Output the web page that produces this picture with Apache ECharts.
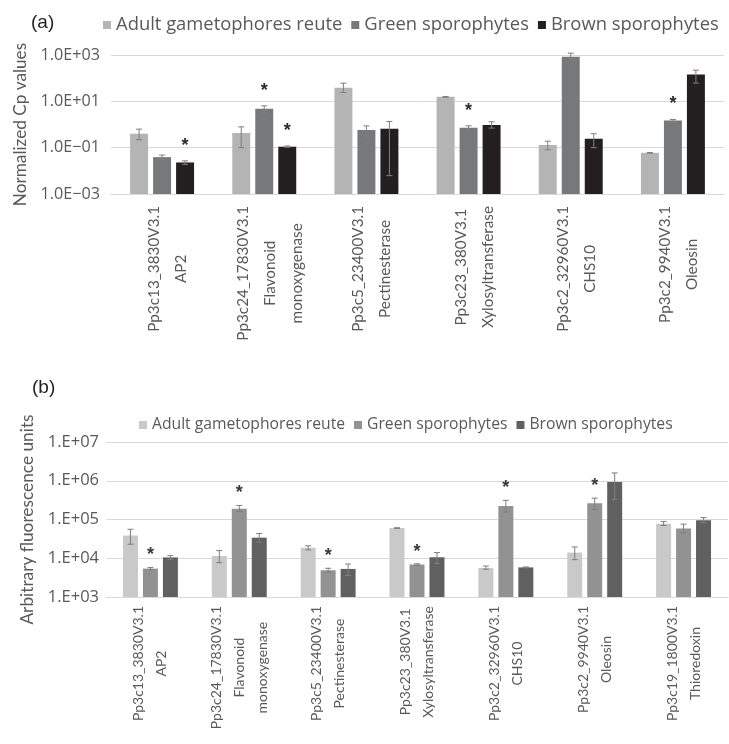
<!DOCTYPE html>
<html>
<head>
<meta charset="utf-8">
<script src="https://cdn.jsdelivr.net/npm/echarts@6/dist/echarts.min.js"></script>
<style>
  html, body { margin: 0; padding: 0; background: #ffffff; }
  #chart { width: 729px; height: 744px; }
</style>
</head>
<body>
<div id="chart"></div>
<script>
// ---- shared ----
const seriesNames = ['Adult gametophores reute', 'Green sporophytes', 'Brown sporophytes'];

// ---- panel (a): normalized Cp values ----
const genesA = [
  'Pp3c13_3830V3.1\nAP2',
  'Pp3c24_17830V3.1\nFlavonoid\nmonoxygenase',
  'Pp3c5_23400V3.1\nPectinesterase',
  'Pp3c23_380V3.1\nXylosyltransferase',
  'Pp3c2_32960V3.1\nCHS10',
  'Pp3c2_9940V3.1\nOleosin'
];
const adultA   = [0.40, 0.43, 39, 15.6, 0.13, 0.060];
const adultLoA = [0.22, 0.10, 24, 15.0, 0.081, 0.058];
const adultHiA = [0.63, 0.79, 61, 16.2, 0.19, 0.062];
const greenA   = [0.039, 4.8, 0.58, 0.72, 850, 1.5];
const greenLoA = [0.030, 3.2, 0.29, 0.56, 660, 1.36];
const greenHiA = [0.048, 6.4, 0.87, 0.88, 1200, 1.64];
const brownA   = [0.023, 0.11, 0.65, 0.94, 0.24, 143];
const brownLoA = [0.019, 0.104, 0.0062, 0.70, 0.10, 61];
const brownHiA = [0.027, 0.118, 1.35, 1.31, 0.40, 220];
const sigGreenA = [0, 1, 0, 1, 0, 1];
const sigBrownA = [1, 1, 0, 0, 0, 0];
const noSigA    = [0, 0, 0, 0, 0, 0];
const tickExpA    = [-3, -1, 1, 3];
const tickLabelsA = ['1.0E\u221203', '1.0E\u221201', '1.0E+01', '1.0E+03'];

// ---- panel (b): arbitrary fluorescence units ----
const genesB = [
  'Pp3c13_3830V3.1\nAP2',
  'Pp3c24_17830V3.1\nFlavonoid\nmonoxygenase',
  'Pp3c5_23400V3.1\nPectinesterase',
  'Pp3c23_380V3.1\nXylosyltransferase',
  'Pp3c2_32960V3.1\nCHS10',
  'Pp3c2_9940V3.1\nOleosin',
  'Pp3c19_1800V3.1\nThioredoxin'
];
const adultB   = [38500, 11400, 18700, 60000, 5600, 14000, 78000];
const adultLoB = [23000, 7700, 16400, 58500, 5200, 9200, 70000];
const adultHiB = [56000, 15800, 21000, 61500, 6300, 19500, 89000];
const greenB   = [5400, 190000, 4900, 6900, 224000, 262000, 59000];
const greenLoB = [5000, 160000, 4400, 6600, 156000, 180000, 46000];
const greenHiB = [5800, 230000, 5500, 7200, 313000, 355000, 76000];
const brownB   = [10500, 34000, 5300, 10600, 5800, 930000, 95500];
const brownLoB = [9400, 26000, 3600, 7300, 5650, 325000, 82000];
const brownHiB = [11700, 43500, 7100, 14000, 5950, 1590000, 112000];
const sigGreenB = [1, 1, 1, 1, 1, 1, 0];
const noSigB    = [0, 0, 0, 0, 0, 0, 0];
const tickExpB    = [3, 4, 5, 6, 7];
const tickLabelsB = ['1.E+03', '1.E+04', '1.E+05', '1.E+06', '1.E+07'];

const rangeA = [0.001, 1000];
const rangeB = [1000, 10000000];

// ---- styling ----
const colorsA = ['#b4b4b4', '#77787a', '#231f20'];
const colorsB = ['#c9c9c9', '#929292', '#606060'];
const textColor = '#595959';
const gridColor = '#d9d9d9';
const FONT = 'Lato';
const WIDE_FONT = 'Open Sans';

function tickFormatter(exps, labels) {
  return function (v) {
    const e = Math.round(Math.log10(v));
    const i = exps.indexOf(e);
    return i >= 0 ? labels[i] : '';
  };
}

// Bars with error bars and significance asterisks, laid out like grouped bars
function barRenderer(seriesIdx, nSeries, yMin, catGap, barGapRatio, errColor, sigGap, sigColor) {
  return function (params, api) {
    const cat = api.value(0);
    const v = api.value(1), lo = api.value(2), hi = api.value(3), sig = api.value(4);
    const catW = api.size([1, yMin])[0];
    const band = catW * (1 - catGap);
    const bw = band / (nSeries + (nSeries - 1) * barGapRatio);
    const base = api.coord([cat, yMin]);
    const x = base[0] - band / 2 + seriesIdx * bw * (1 + barGapRatio);
    const yTop = api.coord([cat, v])[1];
    const yHi = api.coord([cat, hi])[1];
    const yLo = api.coord([cat, lo])[1];
    const cx = x + bw / 2;
    const cap = 3;
    const es = { stroke: errColor, lineWidth: 1 };
    const children = [
      { type: 'rect', shape: { x: x, y: yTop, width: bw, height: base[1] - yTop }, style: api.style() },
      { type: 'line', shape: { x1: cx, y1: yHi, x2: cx, y2: yLo }, style: es },
      { type: 'line', shape: { x1: cx - cap, y1: yHi, x2: cx + cap, y2: yHi }, style: es },
      { type: 'line', shape: { x1: cx - cap, y1: yLo, x2: cx + cap, y2: yLo }, style: es }
    ];
    if (sig) {
      children.push({
        type: 'text', x: cx, y: yHi - sigGap,
        style: { text: '*', fill: sigColor, font: 'bold 18px "Liberation Sans"', align: 'center', verticalAlign: 'top' }
      });
    }
    return { type: 'group', children: children };
  };
}

function buildData(vals, lo, hi, sig) {
  return vals.map((v, i) => [i, v, lo[i], hi[i], sig[i]]);
}

const panelSpec = [
  { vals: [adultA, greenA, brownA], lo: [adultLoA, greenLoA, brownLoA], hi: [adultHiA, greenHiA, brownHiA],
    sig: [noSigA, sigGreenA, sigBrownA], colors: colorsA, yMin: rangeA[0], gap: 0.374, barGap: 0.28,
    errColor: '#7f7f7f', sigGap: 24, sigColor: '#2b2b3a' },
  { vals: [adultB, greenB, brownB], lo: [adultLoB, greenLoB, brownLoB], hi: [adultHiB, greenHiB, brownHiB],
    sig: [noSigB, sigGreenB, noSigB], colors: colorsB, yMin: rangeB[0], gap: 0.382, barGap: 0.333,
    errColor: '#7f7f7f', sigGap: 21, sigColor: '#3a3a3a' }
];

const series = [];
panelSpec.forEach((p, pi) => {
  seriesNames.forEach((name, si) => {
    series.push({
      type: 'custom',
      name: name,
      xAxisIndex: pi,
      yAxisIndex: pi,
      itemStyle: { color: p.colors[si] },
      encode: { x: 0, y: 1 },
      clip: false,
      renderItem: barRenderer(si, 3, p.yMin, p.gap, p.barGap, p.errColor, p.sigGap, p.sigColor),
      data: buildData(p.vals[si], p.lo[si], p.hi[si], p.sig[si])
    });
  });
});

function categoryAxis(genes, gridIndex) {
  return {
    type: 'category', gridIndex: gridIndex, data: genes,
    axisLine: { lineStyle: { color: gridColor } },
    axisTick: { show: false },
    axisLabel: { show: false }
  };
}

const option = {
  backgroundColor: '#ffffff',
  animation: false,
  textStyle: { fontFamily: FONT },
  title: [
    { text: '(a)', left: 26, top: 8, textStyle: { fontFamily: 'Liberation Sans', fontSize: 19, fontWeight: 'normal', color: '#231f20' } },
    { text: '(b)', left: 27, top: 373, textStyle: { fontFamily: 'Liberation Sans', fontSize: 19, fontWeight: 'normal', color: '#231f20' } }
  ],
  legend: [
    { data: seriesNames.map((n, i) => ({ name: n, itemStyle: { color: colorsA[i] } })),
      left: 98, top: 11, icon: 'rect', itemWidth: 8, itemHeight: 8, itemGap: 9, selectedMode: false,
      textStyle: { fontFamily: WIDE_FONT, fontSize: 18.4, color: textColor } },
    { data: seriesNames.map((n, i) => ({ name: n, itemStyle: { color: colorsB[i] } })),
      left: 134, top: 412, icon: 'rect', itemWidth: 8, itemHeight: 8, itemGap: 9, selectedMode: false,
      textStyle: { fontFamily: WIDE_FONT, fontSize: 15.7, color: textColor } }
  ],
  grid: [
    { left: 111, top: 55, width: 613, height: 139, outerBoundsMode: 'none' },
    { left: 106, top: 442, width: 622, height: 155, outerBoundsMode: 'none' }
  ],
  xAxis: [categoryAxis(genesA, 0), categoryAxis(genesB, 1)],
  yAxis: [
    { type: 'log', gridIndex: 0, logBase: 10, min: rangeA[0], max: rangeA[1], interval: 2,
      axisLine: { show: false }, axisTick: { show: false },
      splitLine: { lineStyle: { color: gridColor } },
      axisLabel: { formatter: tickFormatter(tickExpA, tickLabelsA), color: textColor, fontFamily: WIDE_FONT, fontSize: 16.2, margin: 11 },
      name: 'Normalized Cp values', nameLocation: 'middle', nameGap: 82,
      nameTextStyle: { color: textColor, fontFamily: FONT, fontSize: 17.2 } },
    { type: 'log', gridIndex: 1, logBase: 10, min: rangeB[0], max: rangeB[1], interval: 1,
      axisLine: { show: false }, axisTick: { show: false },
      splitLine: { lineStyle: { color: gridColor } },
      axisLabel: { formatter: tickFormatter(tickExpB, tickLabelsB), color: textColor, fontFamily: WIDE_FONT, fontSize: 16.5, margin: 7 },
      name: 'Arbitrary fluorescence units', nameLocation: 'middle', nameGap: 70,
      nameTextStyle: { color: textColor, fontFamily: FONT, fontSize: 17.3 } }
  ],
  series: series
};

const chart = echarts.init(document.getElementById('chart'), null, { renderer: 'canvas' });
chart.setOption(option);

// Rotated gene labels under each category. Every line is its own text so the
// lines of one label are centred on each other, and every label block starts
// a fixed gap below the axis line.
const measureCtx = document.createElement('canvas').getContext('2d');
function lineWidths(label, font) {
  measureCtx.font = font;
  return label.split('\n').map((s) => measureCtx.measureText(s).width);
}
const labelSpec = [
  { genes: genesA, axis: 0, yMin: rangeA[0], fontSize: 15.3, lineHeight: 27, gap: 12, shift: 5.5 },
  { genes: genesB, axis: 1, yMin: rangeB[0], fontSize: 14, lineHeight: 23, gap: 9, shift: 0 }
];
const labelGraphics = [];
labelSpec.forEach((s) => {
  const font = s.fontSize + 'px ' + FONT;
  const axisY = chart.convertToPixel({ yAxisIndex: s.axis }, s.yMin);
  s.genes.forEach((g, i) => {
    const x = chart.convertToPixel({ xAxisIndex: s.axis }, i);
    const lines = g.split('\n');
    const widths = lineWidths(g, font);
    const blockW = Math.max.apply(null, widths);
    lines.forEach((line, li) => {
      labelGraphics.push({
        type: 'text',
        x: x + s.shift + (li - (lines.length - 1) / 2) * s.lineHeight,
        y: axisY + s.gap + blockW / 2,
        rotation: Math.PI / 2,
        silent: true,
        style: {
          text: line, fill: textColor, font: font,
          align: 'center', verticalAlign: 'middle',
          textAlign: 'center', textVerticalAlign: 'middle'
        }
      });
    });
  });
});
chart.setOption({ graphic: labelGraphics });
</script>
</body>
</html>
